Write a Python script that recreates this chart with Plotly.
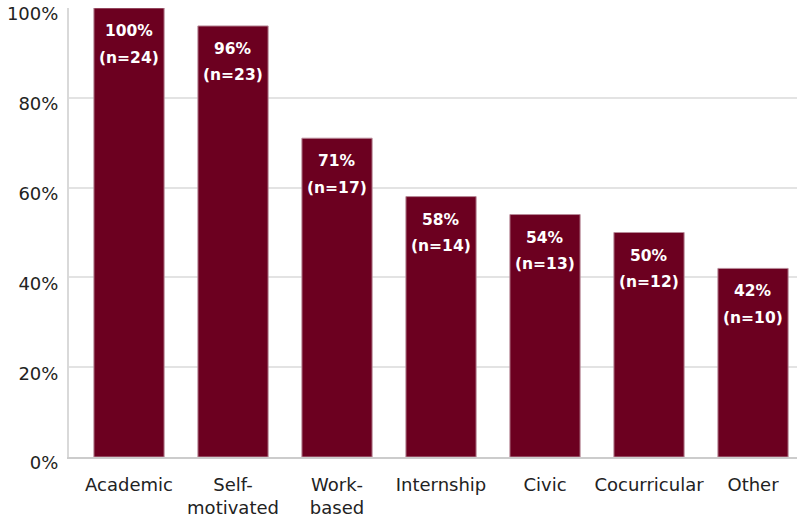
import plotly.graph_objects as go

categories = ["Academic", "Self-<br>motivated", "Work-<br>based", "Internship", "Civic", "Cocurricular", "Other"]
percent = [100, 96, 71, 58, 54, 50, 42]
counts = [24, 23, 17, 14, 13, 12, 10]
y_ticks = [0, 20, 40, 60, 80, 100]
y_tick_labels = ["0%", "20%", "40%", "60%", "80%", "100%"]

FONT = "DejaVu Sans"
x_pos = list(range(len(categories)))

fig = go.Figure(go.Bar(
    x=x_pos,
    y=percent,
    marker=dict(color="#6C0020", line=dict(color="#B88A98", width=1)),
    width=0.675,
    hoverinfo="skip",
))

for xi, p, n in zip(x_pos, percent, counts):
    fig.add_annotation(x=xi, y=p, text=f"<b>{p}%</b>", showarrow=False,
                       yanchor="middle", yshift=-23,
                       font=dict(color="white", size=15.5, family=FONT))
    fig.add_annotation(x=xi, y=p, text=f"<b>(n={n})</b>", showarrow=False,
                       yanchor="middle", yshift=-49.5,
                       font=dict(color="white", size=15.5, family=FONT))

fig.update_layout(
    width=797, height=520,
    margin=dict(l=69, r=0, t=8, b=63, autoexpand=False),
    plot_bgcolor="white", paper_bgcolor="white",
    font=dict(family=FONT, size=17, color="#222222"),
    showlegend=False,
)
fig.update_xaxes(
    tickmode="array", tickvals=x_pos, ticktext=categories,
    range=[-0.577, 6.423], automargin=False,
    showline=True, linecolor="#CCCCCC", linewidth=2,
    showgrid=False, ticks="", ticklabelstandoff=10,
    tickfont=dict(size=18, color="#222222"),
)
fig.update_yaxes(
    range=[0, 100], tickmode="array", tickvals=y_ticks, ticktext=y_tick_labels,
    automargin=False, ticklabeloverflow="allow", ticklabelshift=6,
    showline=True, linecolor="#D9D9D9", linewidth=2,
    showgrid=True, gridcolor="#E3E3E3", gridwidth=2,
    zeroline=False, ticks="", ticklabelstandoff=5,
    tickfont=dict(size=18, color="#222222"),
)

fig.write_html("out.html", config={"displayModeBar": False},
               post_script="document.body.style.margin='0';")
